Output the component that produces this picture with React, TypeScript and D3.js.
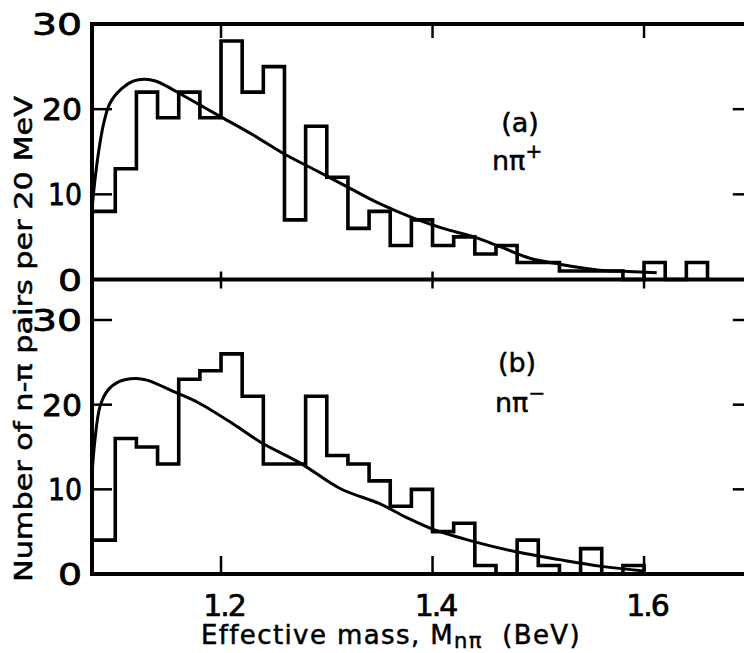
import React from "react";
import * as d3 from "d3";

// ---- data ----
const massStart = 1.078; // n-pi threshold, first (partial) bin starts here
const binStart = 1.10;
const binWidth = 0.02;
// counts per 20 MeV, first value = partial bin 1.078-1.10
const countsA = [8, 13, 22, 19, 22, 19, 28, 22, 25, 7, 18, 12, 6, 8, 4, 7, 4, 5, 3, 4, 2, 2, 1, 1, 1, 0, 2, 0, 2];
const countsB = [4, 16, 15, 13, 23, 24, 26, 21, 13, 13, 21, 14, 13, 11, 8, 10, 5, 6, 1, 0, 4, 1, 0, 3, 0, 1];
// phase-space curves (mass, value)
const curveA: [number, number][] = [
  [1.0782, 8.5], [1.080, 10.8], [1.084, 14.8], [1.089, 18.3], [1.095, 20.7], [1.106, 22.4],
  [1.117, 23.3], [1.128, 23.5], [1.138, 23.3], [1.147, 22.8], [1.163, 21.7], [1.180, 20.5],
  [1.197, 19.3], [1.23, 17.0], [1.259, 14.8], [1.29, 12.8], [1.319, 10.9], [1.35, 8.9],
  [1.382, 7.2], [1.41, 6.0], [1.439, 5.0], [1.465, 3.8], [1.492, 2.5], [1.52, 1.8],
  [1.558, 1.1], [1.585, 0.95], [1.612, 0.8],
];
const curveB: [number, number][] = [
  [1.0782, 12], [1.0805, 15.5], [1.0856, 19.8], [1.093, 21.7], [1.103, 22.7], [1.119, 23.1],
  [1.130, 22.9], [1.156, 21.5], [1.179, 20.2], [1.213, 17.6], [1.237, 15.6], [1.275, 13.1],
  [1.3125, 10.1], [1.35, 8.3], [1.375, 6.7], [1.40, 5.3], [1.44, 3.8], [1.48, 2.6],
  [1.52, 1.7], [1.56, 0.9], [1.60, 0.35],
];
const xTicks = [1.2, 1.4, 1.6];
const xTickLabels = ["1.2", "1.4", "1.6"];
const yTicksA = [0, 10, 20, 30];
const yTicksB = [0, 10, 20, 30];
const yTickLabels = ["0", "10", "20", "30"];

const FONT = "'DejaVu Sans', 'Open Sans', sans-serif";

function edges(n: number): number[] {
  const e = [massStart];
  for (let i = 0; i < n; i++) e.push(binStart + binWidth * i);
  return e;
}

export default function App() {
  const W = 744, H = 653;
  const x = d3.scaleLinear().domain([1.078, 1.70]).range([92, 749.8]);
  const yA = d3.scaleLinear().domain([0, 30]).range([279.5, 24]);
  const yB = d3.scaleLinear().domain([0, 30]).range([574, 320]);
  const xL = x(1.078), xR = x(1.70);
  const topY = yA(30), midY = yA(0), botY = yB(0);

  const histPath = (counts: number[], y: d3.ScaleLinear<number, number>) => {
    const e = edges(counts.length);
    const pts: [number, number][] = [[e[0], 0]];
    counts.forEach((c, i) => {
      pts.push([e[i], c]);
      pts.push([e[i + 1], c]);
    });
    pts.push([e[counts.length], 0]);
    return d3.line<[number, number]>().x(d => x(d[0])).y(d => y(d[1]))(pts) || "";
  };
  const curvePath = (pts: [number, number][], y: d3.ScaleLinear<number, number>) =>
    d3.line<[number, number]>().x(d => x(d[0])).y(d => y(d[1])).curve(d3.curveCatmullRom.alpha(0.5))(pts) || "";

  const ticks: JSX.Element[] = [];
  xTicks.forEach((t, i) => {
    const px = x(t);
    ticks.push(<line key={"xt" + i} x1={px} x2={px} y1={topY} y2={topY + 14} />);
    ticks.push(<line key={"xm" + i} x1={px} x2={px} y1={midY - 8} y2={midY + 9} />);
    ticks.push(<line key={"xb" + i} x1={px} x2={px} y1={botY} y2={botY - 18} />);
  });
  [10, 20].forEach((v, i) => {
    ticks.push(<line key={"ya" + i} x1={xL} x2={xL + 20} y1={yA(v)} y2={yA(v)} />);
    ticks.push(<line key={"yar" + i} x1={xR} x2={xR - 17} y1={yA(v)} y2={yA(v)} />);
  });
  [10, 20, 30].forEach((v, i) => {
    ticks.push(<line key={"yb" + i} x1={xL} x2={xL + 20} y1={yB(v)} y2={yB(v)} />);
    ticks.push(<line key={"ybr" + i} x1={xR} x2={xR - 17} y1={yB(v)} y2={yB(v)} />);
  });

  const yLabW: Record<string, number> = { "0": 24, "10": 34, "20": 40, "30": 50 };

  return (
    <svg width={W} height={H} style={{ position: "absolute", left: 0, top: 0, background: "#fff" }}
      fontFamily={FONT}>
      <rect x={0} y={0} width={W} height={H} fill="#fff" />
      {/* frame */}
      <g stroke="#000" strokeWidth={4} fill="none">
        <line x1={xL} x2={xR} y1={topY} y2={topY} />
        <line x1={xL} x2={xR} y1={midY} y2={midY} />
        <line x1={xL} x2={xR} y1={botY} y2={botY} />
        <line x1={xL} x2={xL} y1={topY - 2} y2={botY + 2} />
        <line x1={xR} x2={xR} y1={topY - 2} y2={botY + 2} />
      </g>
      <g stroke="#000" strokeWidth={2.5}>{ticks}</g>
      {/* histograms */}
      <path d={histPath(countsA, yA)} fill="none" stroke="#000" strokeWidth={3.6} strokeLinejoin="miter" />
      <path d={histPath(countsB, yB)} fill="none" stroke="#000" strokeWidth={3.6} strokeLinejoin="miter" />
      {/* curves */}
      <path d={curvePath(curveA, yA)} fill="none" stroke="#000" strokeWidth={3} />
      <path d={curvePath(curveB, yB)} fill="none" stroke="#000" strokeWidth={3} />
      {/* y tick labels */}
      <g fontSize={31} fill="#000" stroke="#000" strokeWidth={0.8} textAnchor="end">
        {yTicksA.map((v, i) => (
          <text key={"la" + i} x={82} y={yA(v) + 11} textLength={yLabW[yTickLabels[i]]} lengthAdjust="spacingAndGlyphs">{yTickLabels[i]}</text>
        ))}
        {yTicksB.map((v, i) => (
          <text key={"lb" + i} x={82} y={yB(v) + 11} textLength={yLabW[yTickLabels[i]]} lengthAdjust="spacingAndGlyphs">{yTickLabels[i]}</text>
        ))}
      </g>
      {/* x tick labels */}
      <g fill="#000" stroke="#000" strokeWidth={0.7} textAnchor="middle">
        {xTicks.map((t, i) => (
          <text key={"xl" + i} x={x(t) + 3} y={616} fontSize={30} letterSpacing={-2}>{xTickLabels[i]}</text>
        ))}
      </g>
      {/* axis titles */}
      <text x={391} y={644} fontSize={26} letterSpacing={1.4} textAnchor="middle" fill="#000" stroke="#000" strokeWidth={0.5}>
        Effective mass, M<tspan fontSize={21} dy={4}>nπ</tspan><tspan dy={-4} xmlSpace="preserve">{"  (BeV)"}</tspan>
      </text>
      <text transform="translate(32,339) rotate(-90)" fontSize={24} textAnchor="middle" fill="#000" stroke="#000" strokeWidth={0.5}
        textLength={486} lengthAdjust="spacingAndGlyphs">
        Number of n-π pairs per 20 MeV
      </text>
      {/* panel labels */}
      <g fontSize={27} fill="#000" stroke="#000" strokeWidth={0.5}>
        <text x={520} y={132} textAnchor="middle">(a)</text>
        <text x={492} y={170}>nπ<tspan fontSize={20} dy={-12}>+</tspan></text>
        <text x={517} y={372} textAnchor="middle">(b)</text>
        <text x={495} y={412}>nπ<tspan fontSize={20} dy={-12}>−</tspan></text>
      </g>
    </svg>
  );
}
